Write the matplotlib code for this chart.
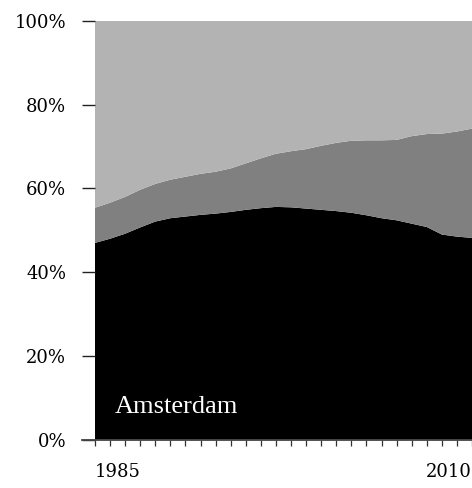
# Stacked share chart - Amsterdam

import matplotlib.pyplot as plt

years = list(range(1985, 2011))

# share of the bottom (black) layer, %
bottom = [47.0, 48.0, 49.2, 50.7, 52.1, 52.9, 53.3, 53.7, 54.0, 54.4,
          54.9, 55.3, 55.6, 55.5, 55.2, 54.9, 54.6, 54.2, 53.6, 52.9,
          52.4, 51.6, 50.8, 49.0, 48.5, 48.2]
# top edge of the middle (dark grey) layer, cumulative %
middle_top = [55.4, 56.6, 58.0, 59.7, 61.1, 62.1, 62.8, 63.5, 64.0, 64.8,
              66.0, 67.2, 68.3, 68.9, 69.4, 70.2, 70.9, 71.4, 71.5, 71.5,
              71.6, 72.5, 73.0, 73.1, 73.6, 74.3]

middle = [t - b for t, b in zip(middle_top, bottom)]
top = [100 - t for t in middle_top]

tick_font = 'DejaVu Serif'

fig = plt.figure(figsize=(4.72, 4.88), dpi=100)
ax = fig.add_axes([82 / 472, 48.3 / 488, 390 / 472, 418.7 / 488])

ax.stackplot(years, bottom, middle, top,
             colors=['#000000', '#808080', '#b3b3b3'], linewidth=0)

ax.set_xlim(1985 - 13 / 15.08, 2010)
ax.set_ylim(0, 100)

for s in ['left', 'right', 'top']:
    ax.spines[s].set_visible(False)
ax.spines['bottom'].set_color('#444444')
ax.spines['bottom'].set_linewidth(1.3)

# y ticks
ax.set_yticks([0, 20, 40, 60, 80, 100])
ax.set_yticklabels(['0%', '20%', '40%', '60%', '80%', '100%'],
                   fontsize=13, family=tick_font)
ax.tick_params(axis='y', direction='in', length=9.4, width=1,
               color='#222222', pad=11.5)

# x ticks, every year, only the ends labelled
ax.set_xticks(years)
labels = [''] * len(years)
labels[0] = '1985'
labels[-1] = '2010'
ax.set_xticklabels(labels, fontsize=13, family=tick_font)
ax.tick_params(axis='x', direction='out', length=4.5, width=0.9,
               color='#333333', pad=12.5)
xl = ax.get_xticklabels()
xl[0].set_ha('left')
xl[-1].set_ha('right')

ax.text(0.085, 0.064, 'Amsterdam', transform=ax.transAxes,
        color='white', fontsize=19, family='Liberation Serif', va='baseline')

fig.savefig('out.png', dpi=100)
